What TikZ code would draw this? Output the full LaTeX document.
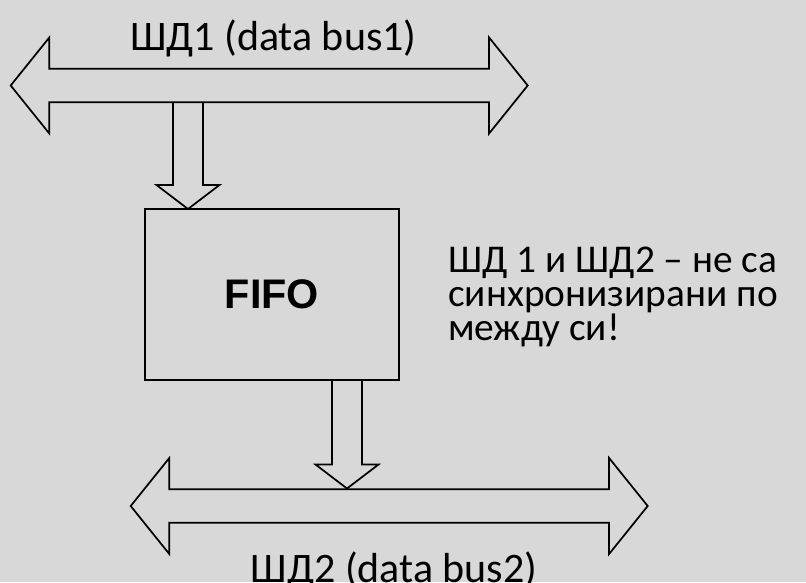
\documentclass[tikz,border=0pt]{standalone}
\usepackage{fontspec}
\setmainfont{Carlito}
\newfontfamily\arialfont{Liberation Sans}
\usepackage{tikz}
\usetikzlibrary{positioning}

\definecolor{bggray}{RGB}{216,216,216}

\tikzset{
  busline/.style={draw=black, line width=1.3pt, line join=miter},
  bustext/.style={font=\fontsize{31.5}{36}\selectfont, inner sep=0pt},
  notetext/.style={font=\fontsize{29.5}{34}\selectfont, inner sep=0pt, anchor=base west},
}

% double block arrow of a bus: left tip x, right tip x, centre y
\newcommand{\busarrow}[3]{%
  \draw[busline] (#1,#3) -- (#1+38.6,#3-48) -- (#1+38.6,#3-16.7)
    -- (#2-38.6,#3-16.7) -- (#2-38.6,#3-48) -- (#2,#3)
    -- (#2-38.6,#3+48) -- (#2-38.6,#3+16.7) -- (#1+38.6,#3+16.7)
    -- (#1+38.6,#3+48) -- cycle;}

% fat arrow pointing down: x, top y, tip y
\newcommand{\fatarrow}[3]{%
  \draw[busline] (#1-15,#2) -- (#1-15,#3-24) -- (#1-31.5,#3-24) -- (#1,#3)
    -- (#1+31.5,#3-24) -- (#1+15,#3-24) -- (#1+15,#2);}

\begin{document}
\begin{tikzpicture}[x=0.75pt,y=-0.75pt]
        \fill[bggray] (0,0) rectangle (806,582);
        \useasboundingbox (0,0) rectangle (806,582);
        \clip (0,0) rectangle (806,582);

        % data buses
        \busarrow{10.7}{527.7}{85.5}
        \busarrow{130.7}{647.7}{506}
        \node[bustext, anchor=base] (lab1) at (273.3,50) {ШД1 (data bus1)};
        \node[bustext, anchor=base] (lab2) at (394,582) {ШД2 (data bus2)};

        % buffer
        \node[draw, line width=1.3pt, minimum width=190.5pt, minimum height=128.25pt,
              font=\arialfont\bfseries\fontsize{31}{36}\selectfont] (fifo) at (272,294.5) {FIFO};

        \fatarrow{188}{102.2}{209}
        \fatarrow{347}{380}{488.5}

        % remark
        \node[notetext] (note1) at (448,272) {ШД 1 и ШД2 – не са};
        \node[notetext] (note2) at (448,306) {синхронизирани по};
        \node[notetext] (note3) at (448,340) {между си!};

    \end{tikzpicture}
\end{document}
